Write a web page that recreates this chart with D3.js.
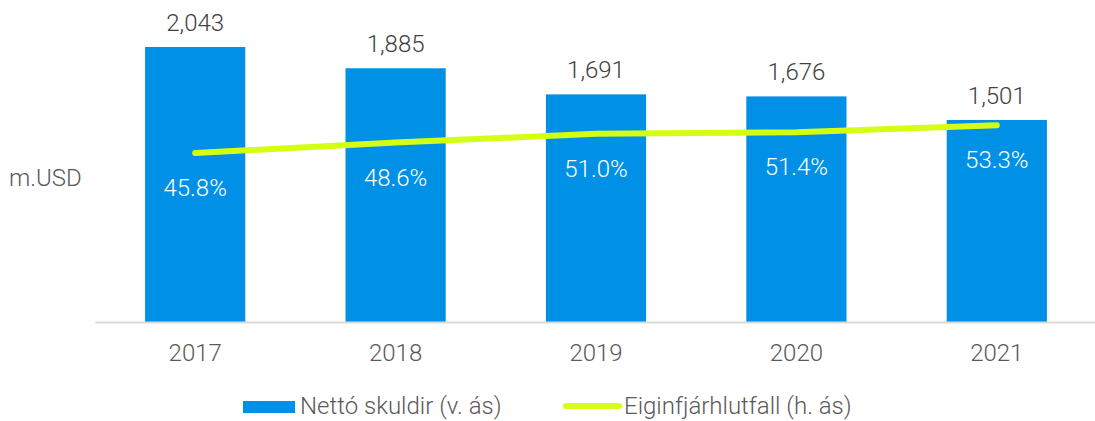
<!DOCTYPE html>
<html>
<head>
<meta charset="utf-8">
<script src="https://cdn.jsdelivr.net/npm/d3@7"></script>
<style>
  body { margin: 0; background: #fff; }
  svg text { font-family: Roboto, "Noto Sans", sans-serif; font-weight: 300; }
</style>
</head>
<body>
<svg width="1095" height="421"></svg>
<script>
const years = ['2017', '2018', '2019', '2020', '2021'];
const debt = [2043, 1885, 1691, 1676, 1501];
const equityRatio = [45.8, 48.6, 51.0, 51.4, 53.3];
const legendLabels = ['Nettó skuldir (v. ás)', 'Eiginfjárhlutfall (h. ás)'];

const width = 1095;
const height = 421;
const baseline = 322;
const blue = '#0091e6';
const lime = '#d4ff14';
const fontSize = '24px';

const svg = d3.select('svg');

const xScale = d3.scaleBand()
    .domain(years)
    .range([95, 1097])
    .paddingInner(0.5)
    .paddingOuter(0.25);

const yScale = d3.scaleLinear()
    .domain([0, 2043])
    .range([baseline, 47]);

const y2Scale = d3.scaleLinear()
    .domain([0, 74.5])
    .range([baseline, 47]);

const data = years.map((y, i) => ({ year: y, debt: debt[i], ratio: equityRatio[i] }));

svg.selectAll('.bar')
    .data(data)
    .enter()
    .append('rect')
    .classed('bar', true)
    .attr('x', d => xScale(d.year))
    .attr('y', d => yScale(d.debt))
    .attr('width', xScale.bandwidth())
    .attr('height', d => baseline - yScale(d.debt))
    .attr('fill', blue);

// x axis
const xAxis = d3.axisBottom(xScale).tickSize(0).tickPadding(22);
const gx = svg.append('g')
    .attr('transform', `translate(0, ${baseline})`)
    .call(xAxis);
gx.select('.domain').attr('stroke', '#d9d9d9').attr('stroke-width', 2);
gx.selectAll('text')
    .attr('fill', '#595959')
    .style('font-size', fontSize)
    .style('font-family', 'Roboto, sans-serif');

// value labels
svg.selectAll('.val')
    .data(data)
    .enter()
    .append('text')
    .attr('x', d => xScale(d.year) + xScale.bandwidth() / 2)
    .attr('y', d => yScale(d.debt) - 16)
    .attr('text-anchor', 'middle')
    .attr('fill', '#404040')
    .style('font-size', fontSize)
    .text(d => d3.format(',')(d.debt));

// line
const line = d3.line()
    .x(d => xScale(d.year) + xScale.bandwidth() / 2)
    .y(d => y2Scale(d.ratio));

svg.append('path')
    .datum(data)
    .attr('d', line)
    .attr('fill', 'none')
    .attr('stroke', lime)
    .attr('stroke-width', 6)
    .attr('stroke-linecap', 'round');

// ratio labels
svg.selectAll('.pct')
    .data(data)
    .enter()
    .append('text')
    .attr('x', d => xScale(d.year) + xScale.bandwidth() / 2)
    .attr('y', d => y2Scale(d.ratio) + 43)
    .attr('text-anchor', 'middle')
    .attr('fill', '#fff')
    .style('font-size', fontSize)
    .text(d => d.ratio.toFixed(1) + '%');

svg.append('text')
    .attr('x', 9)
    .attr('y', 186)
    .attr('fill', '#595959')
    .style('font-size', fontSize)
    .text('m.USD');

// legend
const legend = svg.append('g');
legend.append('rect')
    .attr('x', 243).attr('y', 401)
    .attr('width', 52).attr('height', 12)
    .attr('fill', blue);
legend.append('text')
    .attr('x', 300).attr('y', 414)
    .attr('fill', '#595959')
    .style('font-size', fontSize)
    .text(legendLabels[0]);
legend.append('line')
    .attr('x1', 566).attr('x2', 619)
    .attr('y1', 406).attr('y2', 406)
    .attr('stroke', lime)
    .attr('stroke-width', 6)
    .attr('stroke-linecap', 'round');
legend.append('text')
    .attr('x', 624).attr('y', 414)
    .attr('fill', '#595959')
    .style('font-size', fontSize)
    .text(legendLabels[1]);
</script>
</body>
</html>
